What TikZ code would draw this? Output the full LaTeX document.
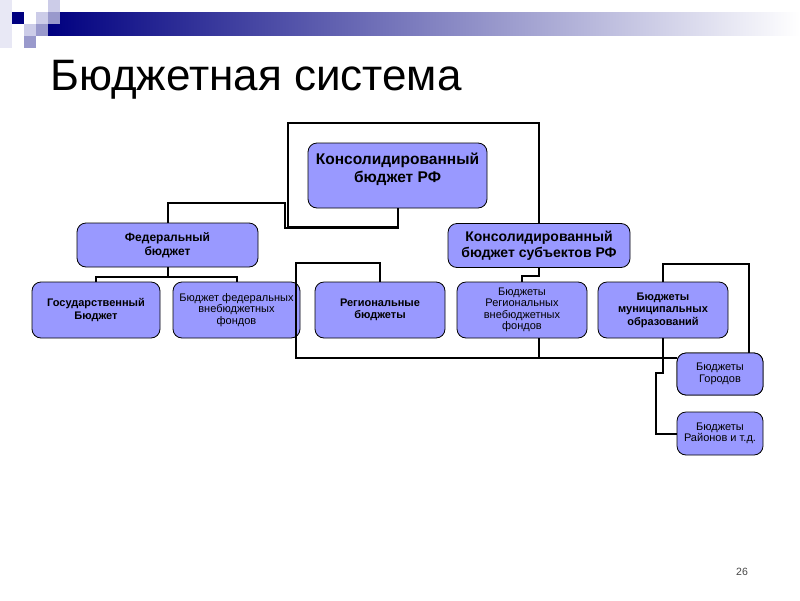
\documentclass[tikz,border=0pt]{standalone}
\usepackage{fontspec}
\setmainfont{Liberation Sans}
\definecolor{boxfill}{RGB}{153,153,255}
\definecolor{navyband}{RGB}{0,0,128}
\definecolor{lavlight}{RGB}{204,204,232}
\definecolor{lavmid}{RGB}{153,153,204}
\definecolor{lavpale}{RGB}{232,232,245}
\definecolor{pagegray}{RGB}{70,70,70}
\tikzset{
  box/.style={draw=black, line width=0.8pt, fill=boxfill, rounded corners=9pt, align=center, inner sep=0pt},
  bbig/.style={font=\fontsize{15.5}{18}\selectfont\bfseries},
  bmid/.style={font=\fontsize{14}{16}\selectfont\bfseries},
  bfed/.style={font=\fontsize{12}{14}\selectfont\bfseries},
  bsmall/.style={font=\fontsize{11}{12.5}\selectfont\bfseries},
  rsmall/.style={font=\fontsize{11}{11.5}\selectfont},
  conn/.style={draw=black, line width=2pt, line join=miter},
}
\begin{document}
\begin{tikzpicture}[x=1pt,y=-1pt]
\useasboundingbox (0,0) rectangle (800,600);
% decoration
\fill[lavpale] (0,0) rectangle (12,48);
\fill[navyband] (12,12) rectangle (24,24);
\fill[lavlight] (36,12) rectangle (48,24);
\fill[lavlight] (48,0) rectangle (60,12);
\fill[lavlight] (24,24) rectangle (36,36);
\fill[lavmid] (36,24) rectangle (48,36);
\fill[lavmid] (24,36) rectangle (36,48);
\shade[left color=navyband, right color=white] (48,12) rectangle (800,35);
\fill[lavmid] (48,12) rectangle (60,24);
% title
\node[anchor=base west, inner sep=0pt, font=\fontsize{44}{50}\selectfont] (title) at (50,90) {Бюджетная система};
% boxes
\node[box, minimum width=179, minimum height=65] (rf) at (397.5,175.5) {};
\node[bbig, align=center, inner sep=0pt] (rftext) at (397.5,169) {Консолидированный\\бюджет РФ};
\node[box, bfed, minimum width=181, minimum height=44] (fed) at (167.5,245) {Федеральный\\бюджет};
\node[box, bmid, minimum width=182, minimum height=44] (subj) at (539,245.5) {Консолидированный\\бюджет субъектов РФ};
\node[box, bsmall, minimum width=128, minimum height=56] (gos) at (96,310) {Государственный\\Бюджет};
\node[box, rsmall, minimum width=127, minimum height=56] (fedfund) at (236.5,310) {Бюджет федеральных\\внебюджетных\\фондов};
\node[box, bsmall, minimum width=130, minimum height=56] (reg) at (380,310) {Региональные\\бюджеты};
\node[box, rsmall, minimum width=130, minimum height=56] (regfund) at (522,310) {Бюджеты\\Региональных\\внебюджетных\\фондов};
\node[box, bsmall, minimum width=130, minimum height=56] (mun) at (663,310) {Бюджеты\\муниципальных\\образований};
\node[box, rsmall, minimum width=86, minimum height=42] (gor) at (720,374) {Бюджеты\\Городов};
\node[box, rsmall, minimum width=86, minimum height=43] (ray) at (720,433.5) {Бюджеты\\Районов и т.д.};
% page number
\node[inner sep=0pt, text=pagegray, font=\fontsize{10.5}{12}\selectfont] (pnum) at (742,572) {26};
% connectors
\draw[conn] (fed.north) -- (167.5,203) -| (285,228) -| (rf.south);
\draw[conn] (rf.south) |- (288,227) -- (288,123) -| (subj.north);
\coordinate (fedjoin) at (167.5,277);
\draw[conn] (fed.south) -- (fedjoin);
\draw[conn] (gos.north) |- (fedjoin) -| (fedfund.north);
\coordinate (gorin) at (677,358);
\draw[conn] (reg.north) |- (296,263) -- (296,358) -- (gorin);
\coordinate (rfbot) at (539,338);
\draw[conn] (rfbot) -- (539,358);
\draw[conn] (subj.south) -- (539,276) -| (regfund.north);
\coordinate (gortop) at (749,353);
\draw[conn] (mun.north) |- (749,264) -- (gortop);
\draw[conn] (mun.south) -- (663,373) -- (656,373) |- (ray.west);
% redraw boxes over line ends
\node[box, minimum width=86, minimum height=42] at (720,374) {};
\node[rsmall, align=center, inner sep=0pt] at (720,374) {Бюджеты\\Городов};
\end{tikzpicture}
\end{document}
